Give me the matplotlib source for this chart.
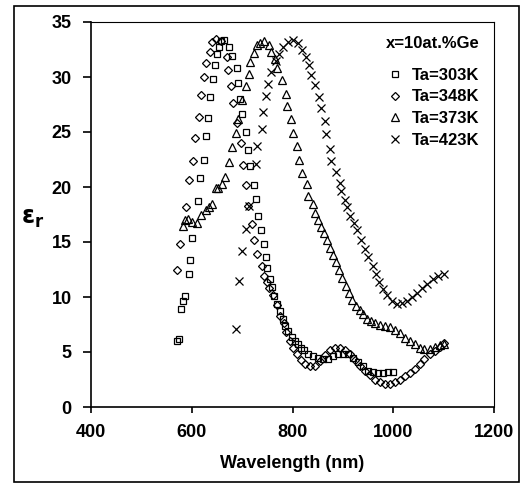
import numpy as np
import matplotlib.pyplot as plt
from matplotlib.patches import Rectangle

plt.rcParams['font.family'] = ['Liberation Sans', 'DejaVu Sans']
plt.rcParams['font.weight'] = 'bold'

# Ta = 303 K (squares)
wl_303 = [570, 574, 578, 582, 586, 594, 597, 601, 613, 616, 624, 628, 632, 636, 643, 647,
          651, 655, 659, 665, 674, 680, 690, 692, 696, 700, 708, 711, 715, 724, 728, 731,
          738, 744, 747, 750, 756, 760, 764, 770, 776, 781, 786, 792, 799, 804, 810, 816,
          822, 831, 841, 851, 861, 871, 881, 891, 901, 910, 920, 930, 940, 950, 960, 970,
          980, 990, 1000]
er_303 = [6.0, 6.2, 8.9, 9.6, 10.1, 12.1, 13.4, 15.4, 18.7, 20.8, 22.5, 24.6, 26.3, 28.2, 29.8, 31.1,
          32.1, 32.7, 33.3, 33.4, 32.7, 31.9, 30.8, 29.5, 28.0, 26.6, 25.0, 23.4, 21.9, 20.2, 18.9, 17.4,
          16.1, 14.8, 13.6, 12.6, 11.6, 10.9, 10.1, 9.4, 8.7, 8.0, 7.4, 6.9, 6.4, 6.0, 5.7, 5.4,
          5.2, 4.8, 4.6, 4.5, 4.4, 4.4, 4.6, 4.8, 4.8, 4.8, 4.5, 4.1, 3.7, 3.3, 3.2, 3.1,
          3.1, 3.15, 3.2]

# Ta = 348 K (diamonds)
wl_348 = [570, 577, 588, 595, 603, 606, 614, 618, 625, 629, 636, 641, 648, 659, 669, 672,
          678, 682, 690, 698, 702, 708, 712, 720, 724, 730, 739, 744, 750, 754, 762, 770,
          776, 784, 788, 795, 801, 808, 816, 824, 834, 844, 854, 864, 874, 884, 894, 904,
          914, 924, 934, 943, 953, 963, 973, 983, 993, 1003, 1013, 1023, 1033, 1043, 1053, 1062,
          1072, 1082, 1092, 1100]
er_348 = [12.5, 14.8, 18.2, 20.6, 22.4, 24.5, 26.4, 28.4, 30.0, 31.3, 32.3, 33.2, 33.5, 33.3, 31.8, 30.6,
          29.2, 27.6, 25.8, 24.0, 22.0, 20.2, 18.3, 16.6, 15.2, 13.9, 12.8, 11.9, 11.4, 10.8, 10.2, 9.3,
          8.3, 7.6, 6.8, 6.0, 5.4, 4.8, 4.3, 3.9, 3.7, 3.75, 4.15, 4.7, 5.15, 5.35, 5.4, 5.2,
          4.85, 4.3, 3.75, 3.3, 2.9, 2.5, 2.3, 2.1, 2.1, 2.25, 2.5, 2.8, 3.1, 3.5, 3.9, 4.4,
          4.8, 5.1, 5.5, 5.8]

# Ta = 373 K (triangles)
wl_373 = [582, 586, 593, 600, 610, 618, 628, 635, 641, 649, 653, 660, 666, 673, 680, 688,
          691, 699, 707, 713, 716, 723, 729, 735, 744, 753, 758, 765, 770, 779, 787, 789,
          798, 801, 809, 813, 819, 828, 831, 840, 844, 850, 856, 862, 868, 874, 881, 887,
          893, 899, 907, 913, 919, 926, 934, 940, 947, 955, 963, 973, 983, 993, 1003, 1013,
          1023, 1033, 1043, 1053, 1062, 1072, 1082, 1092, 1100]
er_373 = [16.5, 17.0, 17.1, 16.8, 16.7, 17.5, 17.9, 18.2, 18.5, 19.9, 19.9, 20.3, 20.9, 22.3, 23.6, 24.9,
          26.2, 27.9, 29.2, 30.3, 31.4, 32.2, 32.9, 33.1, 33.3, 32.9, 32.3, 31.6, 30.8, 29.7, 28.5, 27.4,
          26.2, 24.9, 23.7, 22.5, 21.3, 20.3, 19.2, 18.5, 17.6, 17.0, 16.4, 15.8, 15.2, 14.5, 13.8, 13.2,
          12.5, 11.7, 11.0, 10.4, 9.7, 9.2, 8.85, 8.5, 8.0, 7.8, 7.6, 7.5, 7.4, 7.3, 7.0, 6.7,
          6.3, 6.0, 5.7, 5.4, 5.3, 5.3, 5.45, 5.6, 5.75]

# Ta = 423 K (crosses)
wl_423 = [688, 694, 699, 707, 713, 727, 730, 739, 742, 748, 752, 758, 768, 774, 782, 792,
          801, 810, 819, 826, 832, 837, 844, 853, 857, 864, 867, 875, 877, 886, 894, 897,
          904, 909, 915, 922, 928, 936, 943, 950, 959, 966, 972, 980, 988, 998, 1008, 1018,
          1028, 1038, 1047, 1058, 1067, 1078, 1089, 1100]
er_423 = [7.1, 11.5, 14.2, 16.2, 18.3, 22.1, 23.7, 25.3, 26.8, 28.3, 29.4, 30.5, 31.5, 32.1, 32.7, 33.2,
          33.4, 33.1, 32.5, 31.8, 31.1, 30.2, 29.3, 28.2, 27.2, 26.0, 24.8, 23.5, 22.4, 21.4, 20.4, 19.6,
          18.8, 18.2, 17.4, 16.7, 16.1, 15.2, 14.4, 13.6, 12.8, 12.1, 11.4, 10.7, 10.2, 9.6, 9.4, 9.45,
          9.6, 10.0, 10.4, 10.85, 11.2, 11.6, 11.9, 12.05]

fig = plt.figure(figsize=(5.22, 4.83), dpi=100)
fig.patches.append(Rectangle((14 / 522, 1 - 482 / 483), 505 / 522, 476 / 483,
                             transform=fig.transFigure, fill=False, ec='black', lw=1.2))
ax = fig.add_axes([91 / 522, 1 - 407 / 483, 403 / 522, 385 / 483])

kw = dict(ls='none', mfc='none', mec='black', mew=0.9)
ax.plot(wl_303, er_303, marker='s', ms=4.5, label='Ta=303K', **kw)
ax.plot(wl_348, er_348, marker='D', ms=4, label='Ta=348K', **kw)
ax.plot(wl_373, er_373, marker='^', ms=5.5, label='Ta=373K', **kw)
ax.plot(wl_423, er_423, marker='x', ms=6, label='Ta=423K', **kw)

ax.set_xlim(400, 1200)
ax.set_ylim(0, 35)
ax.set_xticks([400, 600, 800, 1000, 1200])
ax.set_yticks(range(0, 36, 5))
ax.tick_params(axis='y', direction='out', length=6, width=1.2, labelsize=13, pad=8)
ax.tick_params(axis='x', direction='out', length=4, width=1.2, labelsize=13, pad=8)
for s in ax.spines.values():
    s.set_linewidth(1.2)
for s in ['top', 'right']:
    ax.spines[s].set_linewidth(0.8)

ax.set_xlabel('Wavelength (nm)', fontsize=13, fontweight='bold', labelpad=10)
fig.text(33 / 522, 1 - 218 / 483, r'$\mathbf{\varepsilon}_{\mathbf{r}}$', fontsize=17,
         ha='center', va='center')

ax.text(0.965, 0.945, 'x=10at.%Ge', transform=ax.transAxes, ha='right', va='center',
        fontsize=12, fontweight='bold')
ax.legend(loc='upper right', bbox_to_anchor=(1.0, 0.92), frameon=False,
          handlelength=0.8, handletextpad=0.6, labelspacing=0.4,
          prop={'size': 12, 'weight': 'bold'})

fig.savefig('out.png', dpi=100)
